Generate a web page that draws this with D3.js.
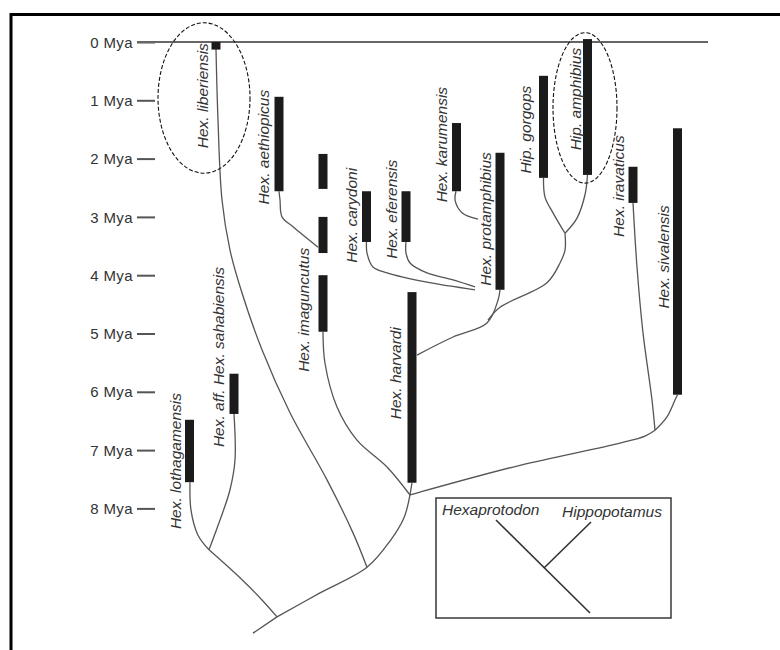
<!DOCTYPE html>
<html><head><meta charset="utf-8">
<script src="https://cdn.jsdelivr.net/npm/d3@7"></script>
<style>
body{margin:0;background:#fff;}
svg{display:block;}
</style></head>
<body>
<svg id="chart" width="780" height="650"></svg>
<script>
// ---------- DATA ----------
// time axis ticks (Mya)
const tickValues = [0,1,2,3,4,5,6,7,8];
const tickLabels = tickValues.map(d => d + " Mya");

// taxa: lineage position (u), stratigraphic range [from, to] in Mya
const taxa = ["Hex. liberiensis","Hex. aethiopicus","Hex. imaguncutus","Hex. carydoni","Hex. eferensis",
  "Hex. karumensis","Hex. protamphibius","Hex. harvardi","Hip. gorgops","Hip. amphibius",
  "Hex. iravaticus","Hex. sivalensis","Hex. lothagamensis","Hex. aff. Hex. sahabiensis"];
const taxonPos = [8.6,14.9,19.3,23.65,27.6,32.65,37.0,28.2,41.35,45.75,50.3,54.75,5.95,10.4];
// each taxon can have several known ranges (segments)
const taxonRanges = [
  [[0,0.13]],
  [[0.94,2.56]],
  [[1.92,2.52],[3.0,3.62],[4.0,4.97]],
  [[2.56,3.43]],
  [[2.56,3.43]],
  [[1.39,2.56]],
  [[1.90,4.25]],
  [[4.29,7.56]],
  [[0.58,2.33]],
  [[-0.05,2.28]],
  [[2.14,2.76]],
  [[1.48,6.05]],
  [[6.48,7.55]],
  [[5.69,6.38]]
];
// label placement: baseline position (u) and top of label (Mya)
const labelPos = [7.75,13.85,17.9,22.65,26.65,31.65,36.05,27.05,40.05,45.05,49.35,53.85,5.05,9.35];
const labelTop = [0.02,0.82,3.53,2.16,2.02,0.77,1.89,4.89,0.75,0.10,1.60,2.80,6.02,3.86];

// branches: points [u, Mya]
const branchNames = ["root","base","lothStem","loth","sahab","lib","imag","harv","asia","siva","irav","prot","hipp","gorg","amph","karu","cary","efer","aeth"];
const branchPoints = [
  [[12.3,10.14],[14.7,9.86]],
  [[14.7,9.86],[19.0,9.45],[23.7,9.01],[26.0,8.56],[27.4,8.16],[28.0,7.77]],
  [[14.7,9.86],[13.2,9.57],[11.0,9.19],[7.9,8.71]],
  [[7.9,8.71],[6.8,8.46],[6.1,8.03],[6.0,7.55]],
  [[7.9,8.71],[9.0,8.20],[10.0,7.68],[10.5,7.17],[10.4,6.38]],
  [[23.7,9.01],[22.3,8.42],[19.7,7.51],[16.0,6.36],[13.2,5.28],[11.1,4.25],[10.0,3.57],[9.2,2.71],[8.8,1.34],[8.6,0.12]],
  [[28.0,7.77],[25.7,7.29],[22.7,6.83],[20.7,6.26],[19.5,5.51],[19.3,4.97]],
  [[28.0,7.77],[28.2,7.56]],
  [[28.0,7.77],[29.0,7.72],[39.0,7.26],[49.0,6.88],[51.5,6.76],[52.5,6.66]],
  [[52.5,6.66],[53.7,6.43],[54.5,6.14],[54.75,6.05]],
  [[52.5,6.66],[52.2,6.14],[51.3,4.99],[50.7,3.86],[50.3,2.76]],
  [[28.7,5.37],[32.3,5.06],[35.7,4.82],[36.8,4.43],[37.0,4.25]],
  [[35.8,4.77],[37.0,4.55],[41.7,4.13],[43.0,3.79],[43.5,3.57],[43.5,3.28]],
  [[41.35,2.33],[41.5,2.66],[42.3,2.93],[43.5,3.28]],
  [[45.75,2.28],[45.5,2.62],[44.7,3.02],[43.5,3.28]],
  [[32.6,2.56],[32.5,2.71],[33.2,2.93],[34.8,3.04]],
  [[23.65,3.43],[23.7,3.62],[24.3,3.86],[25.7,3.96],[29.7,4.12],[34.5,4.25]],
  [[27.6,3.43],[27.6,3.62],[28.0,3.79],[29.7,3.96],[32.3,4.08],[34.5,4.20]],
  [[14.9,2.56],[15.0,2.71],[15.2,3.0],[16.3,3.17],[18.8,3.52]]
];

// highlighted taxa (ellipses): centre [u, Mya], radii [u, Mya]
const highlightCenters = [[7.4,0.96],[45.5,1.13]];
const highlightRadii = [[4.6,1.29],[3.2,1.29]];

// inset legend
const legendLabels = ["Hexaprotodon","Hippopotamus"];

// ---------- CHART ----------
const svg = d3.select("#chart");
const x = d3.scaleLinear().domain([0,60]).range([130,730]);
const y = d3.scaleLinear().domain([0,8]).range([42,508.4]);
const grey = "#555";
const font = "'Liberation Sans', Arial, Helvetica, sans-serif";

// frame
svg.append("line").attr("x1",10).attr("x2",780).attr("y1",14.5).attr("y2",14.5)
  .attr("stroke","#000").attr("stroke-width",3);
svg.append("line").attr("x1",11).attr("x2",11).attr("y1",13).attr("y2",650)
  .attr("stroke","#000").attr("stroke-width",3);

// axis
const axis = d3.axisLeft(y).tickValues(tickValues).tickFormat((d,i)=>tickLabels[i])
  .tickSize(18).tickPadding(4);
const gAxis = svg.append("g").attr("transform","translate(155,0)").call(axis);
gAxis.select(".domain").remove();
gAxis.selectAll(".tick line").attr("stroke",grey).attr("stroke-width",2);
gAxis.selectAll(".tick text").attr("fill","#333").attr("font-family",font)
  .attr("font-size",15).attr("letter-spacing",0.4).attr("dy","0.34em");
// 0 Mya baseline across the chart
svg.append("line").attr("x1",137).attr("x2",708).attr("y1",y(0)).attr("y2",y(0))
  .attr("stroke","#666").attr("stroke-width",2);

// branches
const line = d3.line().x(d=>x(d[0])).y(d=>y(d[1])).curve(d3.curveCatmullRom.alpha(0.5));
svg.append("g").selectAll("path").data(branchPoints).join("path")
  .attr("d",line).attr("fill","none").attr("stroke",grey).attr("stroke-width",1.3);

// bars
const barW = 9;
const segs = [];
taxa.forEach((t,i)=>taxonRanges[i].forEach(r=>segs.push({i, from:r[0], to:r[1]})));
svg.append("g").selectAll("rect").data(segs).join("rect")
  .attr("x",d=>x(taxonPos[d.i])-barW/2).attr("width",barW)
  .attr("y",d=>y(d.from)).attr("height",d=>y(d.to)-y(d.from))
  .attr("fill","#1b1b1b");

// labels
const gLab = svg.append("g");
taxa.forEach((t,i)=>{
  gLab.append("text")
    .attr("transform",`translate(${x(labelPos[i])},${y(labelTop[i])}) rotate(-90)`)
    .attr("text-anchor","end").attr("font-family",font).attr("font-style","italic")
    .attr("font-size",15.5).attr("fill","#333")
    .text(t);
});

// ellipses
svg.append("g").selectAll("ellipse").data(highlightCenters).join("ellipse")
  .attr("cx",d=>x(d[0])).attr("cy",d=>y(d[1]))
  .attr("rx",(d,i)=>x(highlightRadii[i][0])-x(0))
  .attr("ry",(d,i)=>y(highlightRadii[i][1])-y(0))
  .attr("fill","none").attr("stroke","#111").attr("stroke-width",1.1)
  .attr("stroke-dasharray","4,2");

// inset legend
const lg = svg.append("g").attr("transform","translate(436,498)");
lg.append("rect").attr("width",235).attr("height",120).attr("fill","none")
  .attr("stroke","#444").attr("stroke-width",1.6);
lg.append("text").attr("x",6).attr("y",17).text(legendLabels[0]);
lg.append("text").attr("x",126).attr("y",19).text(legendLabels[1]);
lg.selectAll("text").attr("font-family",font).attr("font-style","italic")
  .attr("font-size",15.5).attr("fill","#333");
lg.append("line").attr("x1",60).attr("y1",22).attr("x2",154).attr("y2",115)
  .attr("stroke","#333").attr("stroke-width",1.6);
lg.append("line").attr("x1",155).attr("y1",24).attr("x2",108).attr("y2",70)
  .attr("stroke","#333").attr("stroke-width",1.6);
</script>
</body></html>
